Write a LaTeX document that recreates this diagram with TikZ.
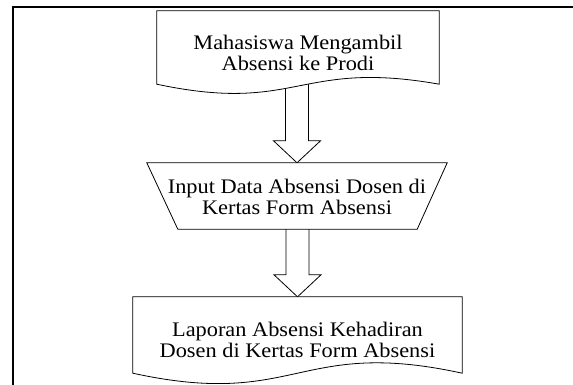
\documentclass[tikz,border=0pt]{standalone}
\usepackage{fontspec}
\setmainfont{Liberation Serif}[FakeStretch=1.08]
\usetikzlibrary{calc}
\pgfdeclarelayer{background}
\pgfsetlayers{background,main}

\tikzset{
  frameline/.style={line width=2pt},
  outline/.style={draw=black, line width=0.8pt, fill=white, line join=miter},
  blockarr/.style={draw=black, line width=0.8pt, fill=white, line join=miter},
  caption/.style={align=center, font=\fontsize{20.7}{21.7}\selectfont, inner sep=0pt},
  box/.style={rectangle, inner sep=0pt},
}

% hollow block arrow from the bottom of #1 to the top of #2;
% #3 lifts the start of the shaft above the bottom of #1
\newcommand\blockarrow[3]{%
  \draw[blockarr]
    ($(#2.north |- #1.south)+(-11.5,-#3)$) -- ($(#2.north)+(-11.5,-22)$)
    -- ($(#2.north)+(-23.5,-22)$) -- (#2.north)
    -- ($(#2.north)+(23.5,-22)$) -- ($(#2.north)+(11.5,-22)$)
    -- ($(#2.north |- #1.south)+(11.5,-#3)$);
}

\begin{document}
\begin{tikzpicture}[x=1pt,y=-1pt]
\useasboundingbox (0,0) rectangle (573,385);

% page frame
\draw[frameline] (13,385) -- (13,7) -- (573,7);

% shape areas
\node[box, minimum width=282pt, minimum height=82pt] (doc1) at (298,52) {};
\node[box, minimum width=300pt, minimum height=66pt] (trap) at (297,196) {};
\node[box, minimum width=329pt, minimum height=86pt] (doc2) at (297.5,340) {};

\begin{pgfonlayer}{background}
  % connectors
  \blockarrow{doc1}{trap}{19}
  \blockarrow{trap}{doc2}{0}

  % document: Mahasiswa Mengambil Absensi
  \draw[outline] ($(doc1.south east)+(0,-9)$) -- (doc1.north east) -- (doc1.north west)
    -- ($(doc1.south west)+(0,-9)$)
    .. controls ($(doc1.south)+(0,21)$) and ($(doc1.south)+(0,-34)$) .. ($(doc1.south east)+(0,-9)$)
    -- cycle;

  % manual operation
  \draw[outline] (trap.north west) -- (trap.north east)
    -- ($(trap.south east)+(-30,0)$) -- ($(trap.south west)+(31,0)$) -- cycle;

  % document: Laporan Absensi
  \draw[outline] ($(doc2.south east)+(0,-10)$) -- (doc2.north east) -- (doc2.north west)
    -- ($(doc2.south west)+(0,-10)$)
    .. controls ($(doc2.south)+(0,26)$) and ($(doc2.south)+(0,-46)$) .. ($(doc2.south east)+(0,-10)$)
    -- cycle;
\end{pgfonlayer}

% texts
\node[caption] (doc1text) at ($(doc1.center)+(0,1)$) {Mahasiswa Mengambil\\Absensi ke Prodi};
\node[caption] (traptext) at ($(trap.center)+(0,1)$) {Input Data Absensi Dosen di\\Kertas Form Absensi};
\node[caption] (doc2text) at ($(doc2.center)+(0,0)$) {Laporan Absensi Kehadiran\\Dosen di Kertas Form Absensi};
\end{tikzpicture}
\end{document}
